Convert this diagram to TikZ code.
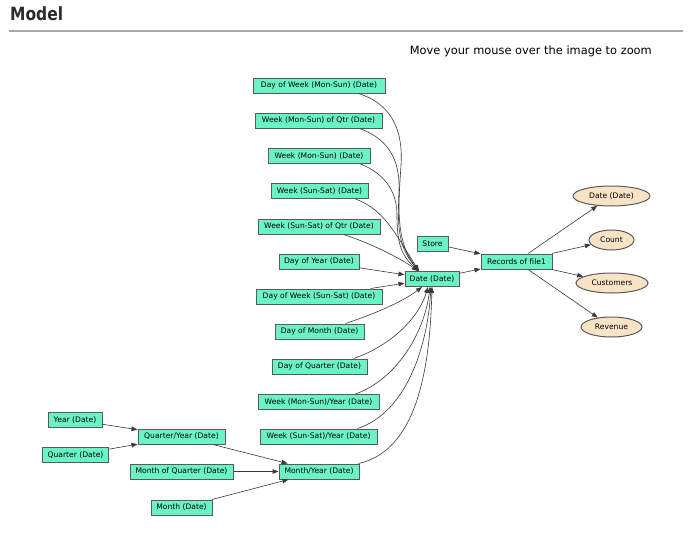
\documentclass[tikz,border=0pt]{standalone}
\usepackage{fontspec}
\setmainfont{DejaVu Sans}
\usetikzlibrary{shapes.geometric,arrows.meta,calc}
\definecolor{dimfill}{HTML}{6AF4C6}
\definecolor{measfill}{HTML}{F9E3C6}
\definecolor{shapeedge}{HTML}{5A5A5A}
\definecolor{linkcol}{HTML}{3A3A3A}
\definecolor{rulecol}{HTML}{A8A8A8}
\definecolor{headcol}{HTML}{2B2B2B}
\begin{document}
\begin{tikzpicture}[x=1pt,y=-1pt,
  dimbox/.style={rectangle, draw=shapeedge, fill=dimfill, line width=1pt,
    inner sep=0pt, minimum height=15pt, font=\fontsize{7.6}{8}\selectfont},
  measure/.style={ellipse, draw=shapeedge, fill=measfill, line width=1pt,
    inner sep=0pt, minimum height=20pt, font=\fontsize{7.6}{8}\selectfont},
  link/.style={draw=linkcol, line width=0.6pt, -{Triangle[length=6pt,width=4.5pt]}},
]
\useasboundingbox (0,0) rectangle (689,538);
\fill[white] (0,0) rectangle (689,538);

% page header
\node[anchor=base west, inner sep=0pt, text=headcol,
  font=\fontsize{18.2}{20}\selectfont\bfseries] (title) at (10,20.7) {\scalebox{0.85}[1]{Model}};
\draw[rulecol, line width=1.3pt] (9,31) -- (683,31);
\node[anchor=base east, inner sep=0pt, text=black,
  font=\fontsize{11.4}{13}\selectfont] (hint) at (652,54.5) {Move your mouse over the image to zoom};

% date attributes
\node[dimbox, minimum width=132pt] (dowms) at (319,85.5) {Day of Week (Mon-Sun) (Date)};
\node[dimbox, minimum width=127pt] (wmsq) at (318.5,120.5) {Week (Mon-Sun) of Qtr (Date)};
\node[dimbox, minimum width=102pt] (wms) at (319,156) {Week (Mon-Sun) (Date)};
\node[dimbox, minimum width=97pt] (wss) at (319.5,191) {Week (Sun-Sat) (Date)};
\node[dimbox, minimum width=122pt] (wssq) at (319,226.5) {Week (Sun-Sat) of Qtr (Date)};
\node[dimbox, minimum width=80pt] (doy) at (319,261.5) {Day of Year (Date)};
\node[dimbox, minimum width=126pt] (dowss) at (319,296.5) {Day of Week (Sun-Sat) (Date)};
\node[dimbox, minimum width=89pt] (dom) at (319.5,331.5) {Day of Month (Date)};
\node[dimbox, minimum width=95pt] (doq) at (319.5,366.5) {Day of Quarter (Date)};
\node[dimbox, minimum width=121pt] (wmy) at (318.5,402) {Week (Mon-Sun)/Year (Date)};
\node[dimbox, minimum width=117pt] (wsy) at (318.5,436.5) {Week (Sun-Sat)/Year (Date)};
\node[dimbox, minimum width=80pt] (my) at (319,471.5) {Month/Year (Date)};
\node[dimbox, minimum width=54pt] (year) at (75,420) {Year (Date)};
\node[dimbox, minimum width=66pt] (quarter) at (75.5,455) {Quarter (Date)};
\node[dimbox, minimum width=87pt] (qy) at (181.5,436.5) {Quarter/Year (Date)};
\node[dimbox, minimum width=103pt] (mq) at (181.5,471.5) {Month of Quarter (Date)};
\node[dimbox, minimum width=61pt] (month) at (181.5,507.5) {Month (Date)};
\node[dimbox, minimum width=54pt] (date) at (432,279) {Date (Date)};
\node[dimbox, minimum width=31pt] (store) at (432.5,243.5) {Store};
\node[dimbox, minimum width=71pt] (rec) at (516.5,261.5) {Records of file1};

% measures
\node[measure, minimum width=77pt] (mdate) at (611.5,196) {Date (Date)};
\node[measure, minimum width=45pt] (count) at (611.5,240) {Count};
\node[measure, minimum width=72pt] (cust) at (612,283) {Customers};
\node[measure, minimum width=61pt] (rev) at (611.5,327) {Revenue};

% calendar hierarchy
\draw[link] (year) -- (qy);
\draw[link] (quarter) -- (qy);
\draw[link] (qy) -- (my);
\draw[link] (mq) -- (my);
\draw[link] (month) -- (my);

% everything rolls up into Date (Date)
\draw[link] ($(dowms.south east)+(-27,0)$) .. controls (395,105) and (403,135) .. (401,165)
  .. controls (399,200) and (394,240) .. ($(date.north)+(-13,0)$);
\draw[link] ($(wmsq.south east)+(-23,0)$) .. controls (392,140) and (400,165) .. (399,190)
  .. controls (398,220) and (396,245) .. ($(date.north)+(-13,0)$);
\draw[link] ($(wms.south east)+(-10,0)$) .. controls (388,175) and (397,195) .. (397,215)
  .. controls (397,240) and (400,255) .. ($(date.north)+(-13,0)$);
\draw[link] ($(wss.south east)+(-13,0)$) .. controls (385,210) and (396,235) .. ($(date.north)+(-13,0)$);
\draw[link] ($(wssq.south east)+(-37,0)$) .. controls (370,243) and (400,258) .. ($(date.north)+(-14,0)$);
\draw[link] (doy) -- (date);
\draw[link] (dowss) -- (date);
\draw[link] ($(dom.north east)+(-19,0)$) .. controls (380,312) and (405,300) .. ($(date.south)+(-10,0)$);
\draw[link] ($(doq.north east)+(-14,0)$) .. controls (388,347) and (418,320) .. ($(date.south)+(-4,0)$);
\draw[link] ($(wmy.north east)+(-24,0)$) .. controls (395,380) and (424,335) .. ($(date.south)+(-2,0)$);
\draw[link] ($(wsy.north east)+(-20,0)$) .. controls (405,413) and (427,350) .. ($(date.south)+(-1,0)$);
\draw[link] ($(my.north east)+(-1,0)$) .. controls (420,450) and (430,360) .. (date.south);

% fact table and its measures
\draw[link] (store) -- (rec);
\draw[link] (date) -- (rec);
\draw[link] (rec) -- (mdate);
\draw[link] (rec) -- (count);
\draw[link] (rec) -- (cust);
\draw[link] (rec) -- (rev);
\end{tikzpicture}
\end{document}
